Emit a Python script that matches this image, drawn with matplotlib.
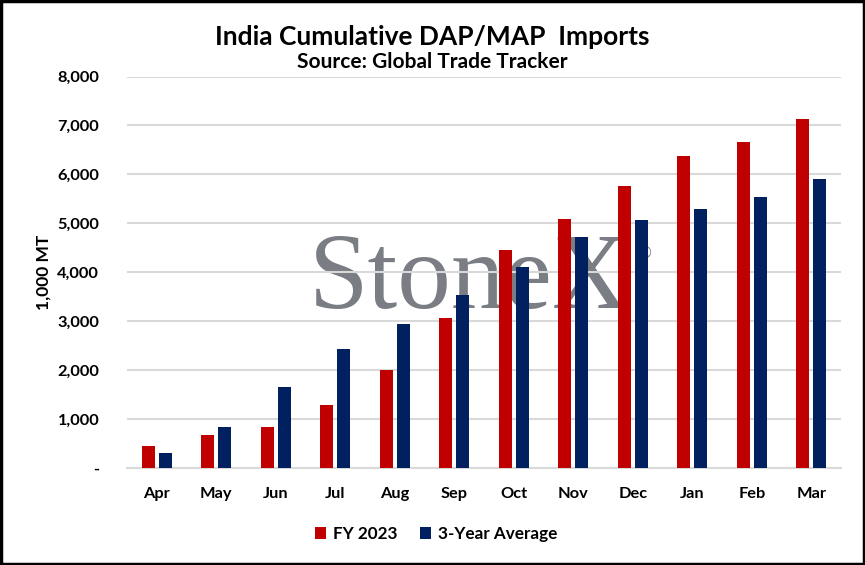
import matplotlib
matplotlib.use("Agg")
import matplotlib.pyplot as plt
import numpy as np
from matplotlib.patches import Rectangle

months = ["Apr", "May", "Jun", "Jul", "Aug", "Sep", "Oct", "Nov", "Dec", "Jan", "Feb", "Mar"]
fy2023 = [445, 671, 835, 1286, 2004, 3071, 4445, 5077, 5758, 6373, 6660, 7132]
avg3y = [302, 835, 1655, 2435, 2948, 3522, 4096, 4728, 5056, 5285, 5531, 5900]
yticks = [0, 1000, 2000, 3000, 4000, 5000, 6000, 7000, 8000]
ytick_labels = ["-", "1,000", "2,000", "3,000", "4,000", "5,000", "6,000", "7,000", "8,000"]

FONT = "Lato"
plt.rcParams["font.family"] = [FONT, "DejaVu Sans"]
plt.rcParams["font.weight"] = "bold"

W, H = 865, 565
fig = plt.figure(figsize=(W / 100, H / 100), dpi=100)
ax = fig.add_axes([127 / W, 1 - 467.7 / H, (841 - 127) / W, (467.7 - 76.5) / H])

x = np.arange(len(months))
bw = 0.22
off = 0.143
ax.bar(x - off, fy2023, bw, color="#C00000", label="FY 2023", zorder=3)
ax.bar(x + off, avg3y, bw, color="#002060", label="3-Year Average", zorder=3)

ax.set_xlim(-0.5, len(months) - 0.5)
ax.set_ylim(0, 8000)
ax.set_yticks(yticks)
ax.set_yticklabels(ytick_labels, fontsize=11.8, fontweight="bold")
ax.set_xticks(x)
ax.set_xticklabels(months, fontsize=11.8, fontweight="bold")
ax.tick_params(axis="both", length=0)
ax.tick_params(axis="y", pad=20)
ax.tick_params(axis="x", pad=14)
ax.grid(axis="y", color="#D9D9D9", linewidth=1.5, zorder=1)
ax.set_axisbelow(False)
for s in ["top", "right", "left"]:
    ax.spines[s].set_visible(False)
ax.spines["bottom"].set_color("#D9D9D9")
ax.spines["bottom"].set_linewidth(1.5)
ax.set_ylabel("1,000 MT", fontsize=12.5, fontweight="bold", labelpad=4)

# watermark
ax.text(0.255, 0.408, "StoneX", transform=ax.transAxes, fontsize=77,
        family="Liberation Serif", color="#7A7E84", fontweight="normal",
        ha="left", va="baseline", zorder=0.5)
ax.text(0.716, 0.548, "®", transform=ax.transAxes, fontsize=11,
        family="DejaVu Sans", color="#7A7E84", fontweight="normal",
        ha="left", va="center", zorder=0.5)

fig.text(0.5, 1 - 37 / H, "India Cumulative DAP/MAP  Imports", ha="center", va="center",
         fontsize=19, fontweight="bold")
fig.text(0.5, 1 - 61.5 / H, "Source: Global Trade Tracker", ha="center", va="center",
         fontsize=15, fontweight="bold")

leg = fig.legend(loc="center", bbox_to_anchor=(436 / W, 1 - 534 / H), ncol=2, frameon=False,
                 fontsize=12.3, handlelength=0.65, handleheight=0.65, handletextpad=0.4,
                 columnspacing=1.3)

fig.patches.append(Rectangle((0.0015, 0.002), 0.997, 0.996, transform=fig.transFigure,
                             fill=False, edgecolor="black", linewidth=2.5))

fig.savefig("out.png", dpi=100)
